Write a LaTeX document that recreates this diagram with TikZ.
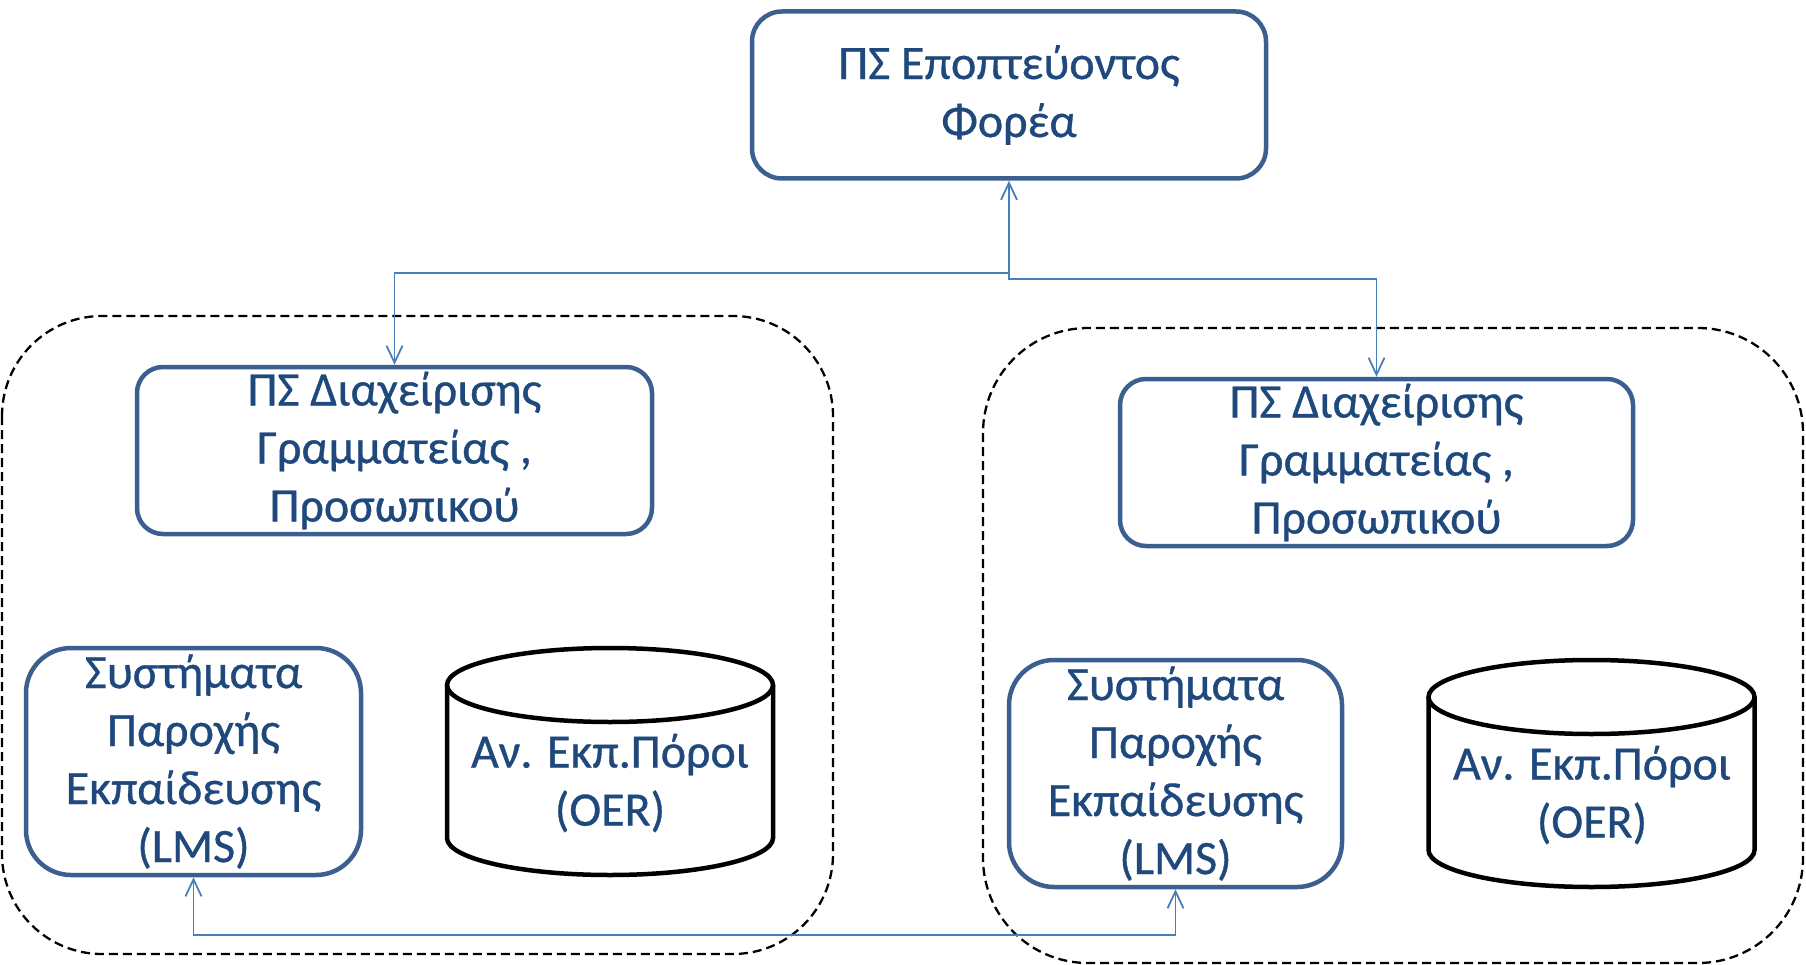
\documentclass[tikz,border=0pt]{standalone}
\usepackage{fontspec}
\setmainfont{Carlito}[FakeBold=0.7]
\usetikzlibrary{arrows.meta}
\definecolor{boxblue}{HTML}{3B6090}
\definecolor{txtblue}{HTML}{1F497D}
\definecolor{connblue}{HTML}{4A7EBB}
\tikzset{
  pbox/.style={draw=boxblue, line width=4.5pt, fill=white, align=center, inner sep=0pt,
    text=txtblue, font=\fontsize{48}{58}\selectfont},
  cyl/.style={draw=black, line width=4.5pt},
  cyltext/.style={align=center, inner sep=0pt, text=txtblue, font=\fontsize{48}{58}\selectfont},
  dashbox/.style={draw=black, line width=2.3pt, dash pattern=on 9pt off 5pt},
  conn/.style={draw=connblue, line width=1.8pt, arrows={-}, >={Straight Barb[length=17pt,width=16pt]}}
}
\begin{document}
\begin{tikzpicture}[x=1pt,y=-1pt]
\useasboundingbox (0,0) rectangle (1806,965);
% containers
\draw[dashbox, rounded corners=100pt] (2,316) rectangle (833,954);
\draw[dashbox, rounded corners=105pt] (983,328) rectangle (1803,963);
% boxes
\node[pbox, rounded corners=30pt, minimum width=514pt, minimum height=167pt] (top) at (1009,95) {\raisebox{-3pt}{ΠΣ Εποπτεύοντος}\\\raisebox{-3pt}{Φορέα}};
\node[pbox, rounded corners=26pt, minimum width=515pt, minimum height=167pt] (lps) at (394.5,450.5) {ΠΣ Διαχείρισης\\Γραμματείας ,\\Προσωπικού};
\node[pbox, rounded corners=26pt, minimum width=513pt, minimum height=167pt] (rps) at (1376.5,462.5) {ΠΣ Διαχείρισης\\Γραμματείας ,\\Προσωπικού};
\node[pbox, rounded corners=45pt, minimum width=335pt, minimum height=227pt] (llms) at (193.5,761.5) {Συστήματα\\Παροχής\\Εκπαίδευσης\\(LMS)};
\node[pbox, rounded corners=45pt, minimum width=333pt, minimum height=227pt] (rlms) at (1175.5,773.5) {Συστήματα\\Παροχής\\Εκπαίδευσης\\(LMS)};
% cylinders
\draw[cyl] (610,685) ellipse [x radius=163, y radius=37];
\draw[cyl] (447,685) -- (447,838) arc[start angle=180, end angle=0, x radius=163, y radius=37] -- (773,685);
\node[cyltext] (loer) at (610,783) {Αν. Εκπ.Πόροι\\(OER)};
\draw[cyl] (1591.5,697) ellipse [x radius=163, y radius=37];
\draw[cyl] (1428.5,697) -- (1428.5,850) arc[start angle=180, end angle=0, x radius=163, y radius=37] -- (1754.5,697);
\node[cyltext] (roer) at (1592,795) {Αν. Εκπ.Πόροι\\(OER)};
% connectors
\coordinate (j1) at (1009,273);
\coordinate (j2) at (1009,279);
\coordinate (bj) at (700,935);
\draw[conn,<->] (top.south) -- (j1) -| (lps.north);
\draw[conn,->] (j1) -- (j2) -| (rps.north);
\draw[conn,<->] (llms.south) |- (bj) -| (rlms.south);
\end{tikzpicture}
\end{document}
